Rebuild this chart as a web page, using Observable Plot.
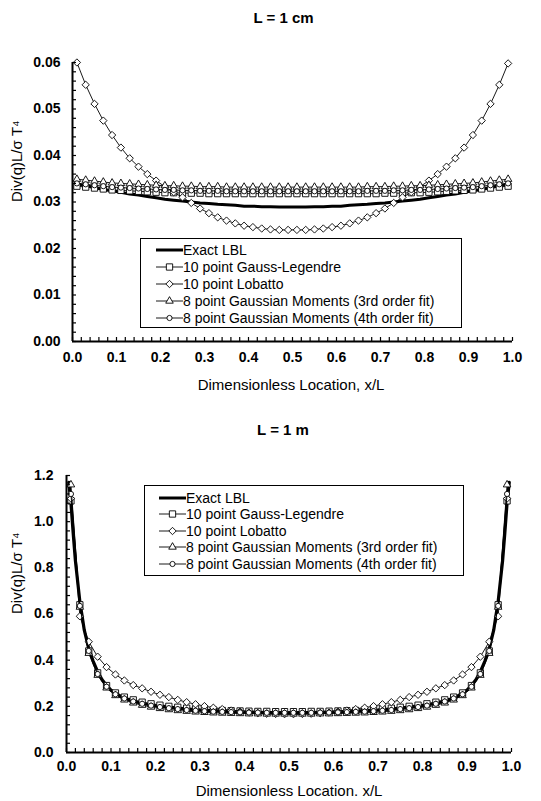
<!DOCTYPE html>
<html><head><meta charset="utf-8">
<script src="https://cdn.jsdelivr.net/npm/d3@7"></script>
<script src="https://cdn.jsdelivr.net/npm/@observablehq/plot@0.6"></script>
<style>
body{margin:0;background:#fff;}
#wrap{position:relative;width:541px;height:801px;overflow:hidden;font-family:"Liberation Sans",Arial,sans-serif;}
#wrap > svg{display:block;}
.legend{position:absolute;background:#fff;border:1px solid #000;box-sizing:border-box;font-size:14px;color:#000;}
.legend .row{position:absolute;left:0;height:18px;line-height:18px;white-space:nowrap;}
.legend .row svg{position:absolute;top:0;}
.legend .row span{position:absolute;top:0;}
</style></head><body><div id="wrap"></div>
<script>
// ---------- data ----------
const seriesNames = ["Exact LBL","10 point Gauss-Legendre","10 point Lobatto","8 point Gaussian Moments (3rd order fit)","8 point Gaussian Moments (4th order fit)"];
const panelTitles = ["L = 1 cm","L = 1 m"];
const xTitles = ["Dimensionless Location, x/L","Dimensionless Location. x/L"];
const yTitle = "Div(q)L/\u03C3 T\u2074";

const xs = [0.01,0.03,0.05,0.07,0.09,0.11,0.13,0.15,0.17,0.19,0.21,0.23,0.25,0.27,0.29,0.31,0.33,0.35,0.37,0.39,0.41,0.43,0.45,0.47,0.49,0.51,0.53,0.55,0.57,0.59,0.61,0.63,0.65,0.67,0.69,0.71,0.73,0.75,0.77,0.79,0.81,0.83,0.85,0.87,0.89,0.91,0.93,0.95,0.97,0.99];

// L = 1 cm
const cmExact = [0.0339,0.0335,0.0331,0.0327,0.0324,0.0321,0.0317,0.0315,0.0312,0.0309,0.0306,0.0304,0.0302,0.0300,0.0298,0.0297,0.0295,0.0294,0.0293,0.0291,0.0291,0.0290,0.0290,0.0289,0.0289,0.0289,0.0289,0.0290,0.0290,0.0291,0.0291,0.0293,0.0294,0.0295,0.0297,0.0298,0.0300,0.0302,0.0304,0.0306,0.0309,0.0312,0.0315,0.0317,0.0321,0.0324,0.0327,0.0331,0.0335,0.0338];
const cmGL = [0.0334,0.0332,0.0330,0.0328,0.0326,0.0325,0.0324,0.0323,0.0322,0.0321,0.0320,0.0320,0.0319,0.0319,0.0319,0.0318,0.0318,0.0318,0.0318,0.0318,0.0318,0.0318,0.0318,0.0318,0.0318,0.0318,0.0318,0.0318,0.0318,0.0318,0.0318,0.0318,0.0318,0.0318,0.0318,0.0319,0.0319,0.0319,0.0320,0.0320,0.0321,0.0322,0.0323,0.0324,0.0325,0.0326,0.0328,0.0330,0.0332,0.0334];
const cmLob = [0.0600,0.0552,0.0511,0.0475,0.0444,0.0417,0.0394,0.0376,0.0360,0.0346,0.0333,0.0321,0.0310,0.0298,0.0286,0.0276,0.0267,0.0260,0.0254,0.0249,0.0246,0.0243,0.0241,0.0240,0.0240,0.0240,0.0240,0.0241,0.0243,0.0246,0.0249,0.0254,0.0260,0.0267,0.0276,0.0286,0.0298,0.0310,0.0321,0.0333,0.0346,0.0360,0.0376,0.0394,0.0417,0.0444,0.0475,0.0511,0.0552,0.0598];
const cmGM3 = [0.0349,0.0347,0.0345,0.0343,0.0341,0.0340,0.0339,0.0338,0.0337,0.0336,0.0335,0.0335,0.0334,0.0334,0.0333,0.0333,0.0333,0.0332,0.0332,0.0332,0.0332,0.0332,0.0332,0.0332,0.0332,0.0332,0.0332,0.0332,0.0332,0.0332,0.0332,0.0332,0.0332,0.0333,0.0333,0.0333,0.0334,0.0334,0.0335,0.0335,0.0336,0.0337,0.0338,0.0339,0.0340,0.0341,0.0343,0.0345,0.0347,0.0349];
const cmGM4 = [0.0340,0.0338,0.0336,0.0334,0.0332,0.0331,0.0330,0.0329,0.0328,0.0327,0.0326,0.0326,0.0325,0.0325,0.0324,0.0324,0.0324,0.0323,0.0323,0.0323,0.0323,0.0323,0.0323,0.0323,0.0323,0.0323,0.0323,0.0323,0.0323,0.0323,0.0323,0.0323,0.0323,0.0324,0.0324,0.0324,0.0325,0.0325,0.0326,0.0326,0.0327,0.0328,0.0329,0.0330,0.0331,0.0332,0.0334,0.0336,0.0338,0.0340];

// L = 1 m
const mExactX = [0.005,0.01,0.015,0.02,0.03,0.04,0.05,0.06,0.07,0.08,0.09,0.10,0.12,0.14,0.16,0.18,0.20,0.25,0.30,0.35,0.40,0.45,0.50,0.55,0.60,0.65,0.70,0.75,0.80,0.82,0.84,0.86,0.88,0.90,0.91,0.92,0.93,0.94,0.95,0.96,0.97,0.98,0.985,0.99,0.995];
const mExact = [1.17,1.08,0.95,0.83,0.655,0.53,0.45,0.395,0.35,0.315,0.29,0.27,0.245,0.229,0.218,0.210,0.204,0.192,0.184,0.179,0.175,0.173,0.172,0.173,0.175,0.179,0.184,0.192,0.204,0.210,0.218,0.229,0.245,0.27,0.29,0.315,0.35,0.395,0.45,0.53,0.655,0.83,0.95,1.08,1.17];
const mGL = [1.09,0.64,0.44,0.345,0.29,0.258,0.240,0.228,0.218,0.211,0.205,0.200,0.196,0.192,0.189,0.186,0.184,0.182,0.181,0.180,0.179,0.178,0.178,0.177,0.177,0.177,0.177,0.178,0.178,0.179,0.180,0.181,0.182,0.184,0.186,0.189,0.192,0.196,0.200,0.205,0.211,0.218,0.228,0.240,0.258,0.29,0.345,0.44,0.64,1.09];
const mLob = [1.10,0.59,0.48,0.415,0.37,0.338,0.312,0.292,0.278,0.263,0.250,0.240,0.228,0.218,0.209,0.201,0.194,0.188,0.182,0.177,0.173,0.170,0.168,0.167,0.166,0.166,0.167,0.168,0.170,0.173,0.177,0.182,0.188,0.194,0.201,0.209,0.218,0.228,0.240,0.250,0.263,0.278,0.292,0.312,0.338,0.37,0.415,0.48,0.59,1.10];
const mGM3 = [1.16,0.63,0.43,0.335,0.28,0.247,0.228,0.215,0.205,0.197,0.191,0.186,0.182,0.179,0.176,0.174,0.172,0.171,0.170,0.169,0.168,0.168,0.167,0.167,0.167,0.167,0.167,0.167,0.168,0.168,0.169,0.170,0.171,0.172,0.174,0.176,0.179,0.182,0.186,0.191,0.197,0.205,0.215,0.228,0.247,0.28,0.335,0.43,0.63,1.16];
const mGM4 = [1.12,0.635,0.44,0.34,0.285,0.252,0.234,0.221,0.211,0.203,0.197,0.192,0.188,0.184,0.181,0.179,0.177,0.176,0.175,0.174,0.173,0.173,0.172,0.172,0.172,0.172,0.172,0.172,0.173,0.173,0.174,0.175,0.176,0.177,0.179,0.181,0.184,0.188,0.192,0.197,0.203,0.211,0.221,0.234,0.252,0.285,0.34,0.44,0.635,1.12];

// tick values
const xMajor = [0,0.1,0.2,0.3,0.4,0.5,0.6,0.7,0.8,0.9,1.0];
const cmYMajor = [0,0.01,0.02,0.03,0.04,0.05,0.06];
const mYMajor = [0,0.2,0.4,0.6,0.8,1.0,1.2];

// ---------- drawing ----------
const FONT = '"Liberation Sans", Arial, sans-serif';
const symbols = ["square2","diamond2","triangle2","circle"];
const symR = [4, 3.3, 3.6, 2.6];
const rows = (xa, ya) => xa.map((x, i) => ({x, y: ya[i]}));
const xMinor = d3.range(0, 51).map(i => i / 50);

function panel(o) {
  const plotH = o.height - o.mt - o.mb, plotW = 541 - o.ml - o.mr;
  const marks = [];
  marks.push(Plot.line(rows(o.exactX, o.exactY), {x: "x", y: "y", stroke: "#000", strokeWidth: o.exactW}));
  o.series.forEach((ya, k) => {
    const d = rows(xs, ya);
    marks.push(Plot.line(d, {x: "x", y: "y", stroke: "#000", strokeWidth: 0.9}));
    marks.push(Plot.dot(d, {x: "x", y: "y", symbol: symbols[k], r: symR[k], fill: "#fff", stroke: "#000", strokeWidth: 0.9}));
  });
  marks.push(Plot.ruleX(xMinor, {stroke: "#000", strokeWidth: 1.2, insetTop: plotH - 4}));
  marks.push(Plot.ruleY(o.yMinor, {stroke: "#000", strokeWidth: 1.2, insetRight: plotW - 4}));
  marks.push(Plot.ruleY([0], {stroke: "#000", strokeWidth: 2}));
  marks.push(Plot.ruleX([0], {stroke: "#000", strokeWidth: 2}));
  marks.push(Plot.axisX({ticks: xMajor, tickSize: 0, tickPadding: o.xPad, tickFormat: d3.format(".1f"), fontWeight: "bold", fontSize: 14, label: null}));
  marks.push(Plot.axisY({ticks: o.yMajor, tickSize: 0, tickPadding: o.yPad, tickFormat: d3.format(o.yFmt), fontWeight: "bold", fontSize: 14, label: null}));
  marks.push(Plot.text([o.xLabel], {text: d => d, frameAnchor: "bottom", lineAnchor: "middle", dy: o.xLabelDy, dx: o.xLabelDx, fontSize: 15}));
  marks.push(Plot.text([yTitle], {text: d => d, frameAnchor: "left", lineAnchor: "middle", rotate: -90, dx: o.yLabelDx, fontSize: 15}));
  marks.push(Plot.text([o.title], {text: d => d, frameAnchor: "top", lineAnchor: "middle", dy: o.titleDy, dx: o.titleDx, fontSize: 15, fontWeight: "bold"}));
  return Plot.plot({
    width: 541, height: o.height,
    marginTop: o.mt, marginBottom: o.mb, marginLeft: o.ml, marginRight: o.mr,
    x: {domain: [0, 1]}, y: {domain: [0, o.yMax]},
    style: {fontFamily: FONT, fontSize: "14px", color: "#000", background: "#fff", overflow: "visible"},
    marks
  });
}

function legend(o) {
  const box = document.createElement("div");
  box.className = "legend";
  Object.assign(box.style, {left: o.left + "px", top: o.top + "px", width: o.width + "px", height: o.height + "px"});
  seriesNames.forEach((name, i) => {
    const row = document.createElement("div");
    row.className = "row";
    row.style.top = (o.start + i * o.step - 9) + "px";
    row.style.width = "100%";
    const svg = d3.create("svg").attr("width", 27).attr("height", 18).style("left", o.sample + "px");
    svg.append("line").attr("x1", 0).attr("x2", 27).attr("y1", 9).attr("y2", 9)
      .attr("stroke", "#000").attr("stroke-width", i === 0 ? 3 : 0.9);
    if (i > 0) {
      const r = symR[i - 1];
      const t = {square2: d3.symbolSquare2, diamond2: d3.symbolDiamond2, triangle2: d3.symbolTriangle2, circle: d3.symbolCircle}[symbols[i - 1]];
      svg.append("path").attr("d", d3.symbol(t, r * r * Math.PI)()).attr("transform", "translate(13.5,9)")
        .attr("fill", "#fff").attr("stroke", "#000").attr("stroke-width", 0.9);
    }
    row.appendChild(svg.node());
    const sp = document.createElement("span");
    sp.textContent = name;
    sp.style.left = o.text + "px";
    row.appendChild(sp);
    box.appendChild(row);
  });
  return box;
}

const wrap = document.getElementById("wrap");
wrap.appendChild(panel({
  height: 400, mt: 62, mb: 59, ml: 72, mr: 29, yMax: 0.06,
  yMinor: d3.range(0, 31).map(i => i * 0.002), yMajor: cmYMajor, yFmt: ".2f",
  xPad: 11, yPad: 12,
  exactX: xs, exactY: cmExact, exactW: 3,
  series: [cmGL, cmLob, cmGM3, cmGM4],
  xLabel: xTitles[0], xLabelDy: 44, xLabelDx: -1.5, yLabelDx: -55,
  title: panelTitles[0], titleDy: -44, titleDx: -9
}));
wrap.appendChild(panel({
  height: 401, mt: 75, mb: 49, ml: 66, mr: 30, yMax: 1.2,
  yMinor: d3.range(0, 31).map(i => i * 0.04), yMajor: mYMajor, yFmt: ".1f",
  xPad: 9, yPad: 13,
  exactX: mExactX, exactY: mExact, exactW: 3.2,
  series: [mGL, mLob, mGM3, mGM4],
  xLabel: xTitles[1], xLabelDy: 39, xLabelDx: 0, yLabelDx: -49,
  title: panelTitles[1], titleDy: -45, titleDx: -6
}));
wrap.appendChild(legend({left: 140, top: 238, width: 322, height: 90, start: 11, step: 17, sample: 15, text: 42}));
wrap.appendChild(legend({left: 144, top: 485, width: 320, height: 91, start: 12, step: 16.4, sample: 14, text: 41}));
</script></body></html>
